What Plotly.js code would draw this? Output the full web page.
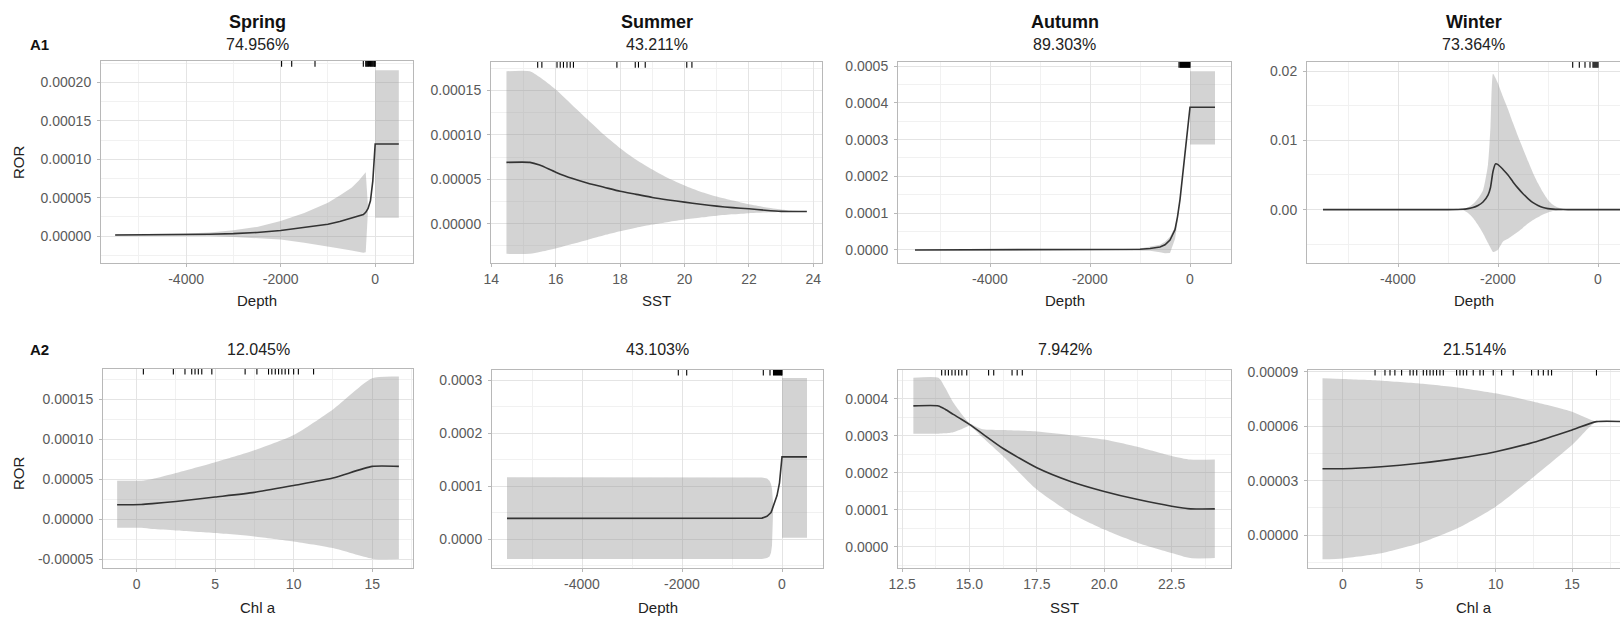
<!DOCTYPE html>
<html><head><meta charset="utf-8">
<script src="https://cdn.plot.ly/plotly-3.0.1.min.js"></script>
<style>
html,body{margin:0;padding:0;background:#fff;overflow:hidden}
#wrap{width:1620px;height:618px;overflow:hidden;position:relative}
#plot{width:1650px;height:618px}
</style></head>
<body><div id="wrap"><div id="plot"></div></div>
<script>
// ---------------- data ----------------
const seasons = ['Spring', 'Summer', 'Autumn', 'Winter'];
const rowLabels = ['A1', 'A2'];
const pctA1 = ['74.956%', '43.211%', '89.303%', '73.364%'];
const pctA2 = ['12.045%', '43.103%', '7.942%', '21.514%'];
const xTitlesA1 = ['Depth', 'SST', 'Depth', 'Depth'];
const xTitlesA2 = ['Chl a', 'Depth', 'SST', 'Chl a'];

// Spring A1 : Depth
const springA1X   = [-5500,-5000,-4500,-4000,-3500,-3000,-2500,-2000,-1500,-1000,-750,-500,-350,-250,-200,-150,-100,-50,0,0,500];
const springA1Fit = [0.0000015,0.0000016,0.0000018,0.000002,0.0000025,0.0000033,0.0000048,0.0000074,0.000011,0.0000155,0.000019,0.000023,0.000026,0.000028,0.000031,0.000036,0.000046,0.000072,0.00012,0.00012,0.00012];
const springA1Hi  = [0.0000025,0.0000027,0.000003,0.0000035,0.0000048,0.0000075,0.000012,0.0000196,0.00003,0.0000435,0.000053,0.000063,0.000072,0.00008,0.000083,0.000036,0.000046,0.000072,0.00012,0.000216,0.000216];
const springA1Lo  = [0.0000005,0.0000005,0.0000005,0.0000004,0,-0.0000012,-0.0000025,-0.0000043,-0.0000085,-0.000013,-0.000016,-0.0000187,-0.00002,-0.0000217,-0.000021,0.000036,0.000046,0.000072,0.00012,0.000024,0.000024];
const springA1Rug = [-1980,-1766,-1273,-251,-200,-180,-160,-140,-120,-100,-80,-60,-40,-20,-10,0];

// Summer A1 : SST
const summerA1X   = [14.47,15.2,15.5,16,16.5,17,17.5,18,18.5,19,19.5,20,20.5,21,21.5,22,22.5,23,23.4,23.8];
const summerA1Fit = [0.000069,0.000069,0.000066,0.000058,0.000051,0.0000455,0.000041,0.0000364,0.000033,0.0000295,0.0000267,0.0000242,0.0000218,0.0000197,0.000018,0.0000167,0.0000151,0.0000138,0.0000136,0.0000136];
const summerA1Hi  = [0.0001716,0.0001716,0.000165,0.000151,0.000134,0.000117,0.000100,0.000085,0.000072,0.000061,0.000051,0.000043,0.000036,0.0000305,0.000026,0.0000218,0.0000186,0.000016,0.0000145,0.0000137];
const summerA1Lo  = [-0.000034,-0.000034,-0.000032,-0.000028,-0.000023,-0.000018,-0.000013,-0.0000085,-0.0000045,-0.000001,0.000002,0.0000047,0.000007,0.000009,0.0000105,0.0000118,0.0000126,0.0000131,0.0000134,0.0000135];
const summerA1Rug = [15.44,15.57,16.04,16.14,16.24,16.35,16.45,16.55,17.9,18.47,18.57,18.78,20.07,20.23];

// Autumn A1 : Depth
const autumnA1X   = [-5500,-4000,-3000,-2000,-1500,-1000,-800,-600,-500,-400,-300,-250,-200,-150,-100,-50,0,0,500];
const autumnA1Fit = [0,0,0,0.0000005,0.000001,0.000002,0.000004,0.000008,0.000014,0.000027,0.000055,0.00009,0.000137,0.0002,0.000273,0.00033,0.000388,0.000388,0.000388];
const autumnA1Hi  = [0.000001,0.000001,0.000001,0.0000015,0.000002,0.000004,0.000008,0.000014,0.000022,0.000036,0.000062,0.000095,0.00014,0.0002,0.000273,0.00033,0.000388,0.000486,0.000486];
const autumnA1Lo  = [-0.000001,-0.000001,-0.000001,-0.0000005,0,0,-0.000002,-0.000006,-0.000009,-0.000008,0.00003,0.000075,0.000132,0.0002,0.000273,0.00033,0.000388,0.000287,0.000287];
const autumnA1Rug = [-220,-200,-190,-180,-170,-160,-150,-140,-130,-120,-110,-100,-90,-80,-70,-60,-50,-40,-30,-20,-10,0];

// Winter A1 : Depth
const winterA1X   = [-5500,-4000,-3000,-2700,-2600,-2500,-2400,-2300,-2200,-2150,-2100,-2050,-2000,-1900,-1800,-1700,-1600,-1500,-1400,-1300,-1200,-1100,-1000,-900,-800,-600,-400,-200,0,500];
const winterA1Fit = [0,0,0,0.00005,0.00015,0.0003,0.0006,0.0011,0.0021,0.0032,0.0055,0.0066,0.0065,0.0058,0.005,0.004,0.0031,0.0023,0.0016,0.001,0.0006,0.0003,0.00015,0.00007,0.00003,0,0,0,0,0];
const winterA1Hi  = [0,0,0.00005,0.0002,0.0003,0.0008,0.0016,0.0028,0.0065,0.012,0.0196,0.019,0.0182,0.0163,0.0145,0.0125,0.0106,0.0088,0.007,0.0053,0.0038,0.0025,0.0014,0.0007,0.0003,0.00005,0,0,0,0];
const winterA1Lo  = [0,0,-0.00005,-0.0001,-0.0005,-0.0012,-0.0022,-0.0034,-0.0048,-0.0055,-0.0061,-0.006,-0.0058,-0.0046,-0.0042,-0.0037,-0.0032,-0.0026,-0.002,-0.0015,-0.0011,-0.0007,-0.0004,-0.0002,-0.0001,0,0,0,0,0];
const winterA1Rug = [-506,-374,-260,-160,-100,-80,-60,-40,-20,0];

// Spring A2 : Chl a
const springA2X   = [-1.24,0.3,1,2.5,5,7.5,10,12.5,15,16.7];
const springA2Fit = [0.0000179,0.0000182,0.0000192,0.000022,0.0000275,0.0000333,0.000042,0.0000512,0.0000658,0.0000658];
const springA2Hi  = [0.0000479,0.0000479,0.00005,0.0000575,0.000071,0.000086,0.000105,0.000137,0.000176,0.000178];
const springA2Lo  = [-0.000011,-0.000011,-0.0000125,-0.0000142,-0.0000175,-0.0000217,-0.000028,-0.0000363,-0.0000495,-0.00005];
const springA2Rug = [0.43,2.34,3.08,3.51,3.72,3.93,4.15,4.79,6.91,7.66,8.4,8.61,8.83,9.04,9.25,9.46,9.68,10.0,10.3,11.27];

// Summer A2 : Depth
const summerA2X   = [-5500,-4000,-3000,-2000,-1000,-500,-400,-300,-250,-220,-200,-175,-150,-100,-50,0,0,500];
const summerA2Fit = [0.000039,0.000039,0.000039,0.000039,0.000039,0.000039,0.0000395,0.000043,0.000047,0.00005,0.000055,0.000062,0.00007,0.000082,0.000106,0.000155,0.000155,0.000155];
const summerA2Hi  = [0.0001164,0.0001164,0.0001164,0.0001164,0.0001164,0.0001164,0.000116,0.000114,0.00011,0.000104,0.000095,0.000062,0.00007,0.000082,0.000106,0.000155,0.000304,0.000304];
const summerA2Lo  = [-0.0000377,-0.0000377,-0.0000377,-0.0000377,-0.0000377,-0.0000377,-0.0000375,-0.000036,-0.000033,-0.000026,-0.000012,0.000062,0.00007,0.000082,0.000106,0.000155,0.0000025,0.0000025];
const summerA2Rug = [-2074,-1906,-374,-240,-170,-150,-130,-110,-90,-70,-50,-30,-10,0];

// Autumn A2 : SST
const autumnA2X   = [12.92,13.85,14.1,14.4,14.7,15.0,15.5,16.25,17.5,18.75,20,21.25,22.5,23.2,24.1];
const autumnA2Fit = [0.000381,0.000381,0.000372,0.000358,0.000345,0.000331,0.000305,0.000266,0.000214,0.000177,0.00015,0.000128,0.00011,0.000103,0.000103];
const autumnA2Hi  = [0.000457,0.000457,0.00043,0.00039,0.00036,0.000335,0.000318,0.000316,0.000312,0.000302,0.00029,0.00027,0.000246,0.000236,0.000236];
const autumnA2Lo  = [0.000306,0.000306,0.000307,0.00031,0.000318,0.000327,0.000295,0.000245,0.000155,0.000092,0.000047,0.000011,-0.000016,-0.00003,-0.00003];
const autumnA2Rug = [13.97,14.1,14.22,14.35,14.47,14.6,14.72,14.9,15.71,15.9,16.58,16.77,16.96];

// Winter A2 : Chl a
const winterA2X   = [-1.34,0,2.5,5,7.5,10,12.5,15,16.6,18.5];
const winterA2Fit = [0.0000366,0.0000366,0.0000377,0.0000396,0.0000423,0.000046,0.0000512,0.000058,0.0000626,0.0000626];
const winterA2Hi  = [0.0000865,0.0000861,0.0000852,0.0000837,0.0000815,0.0000782,0.0000736,0.0000681,0.0000626,0.0000626];
const winterA2Lo  = [-0.0000134,-0.0000129,-0.0000101,-0.0000046,0.0000037,0.0000156,0.0000322,0.0000497,0.0000626,0.0000626];
const winterA2Rug = [2.1,2.75,3.08,3.4,3.84,4.39,4.6,4.83,5.26,5.48,5.7,5.91,6.13,6.35,6.57,7.44,7.66,7.88,8.1,8.53,8.97,9.19,9.84,10.39,11.15,12.35,12.79,13.12,13.44,13.66,16.6];

// tick labels
const depthTicks = [-4000,-2000,0];
const depthTickText = ['-4000','-2000','0'];
const sstA1Ticks = [14,16,18,20,22,24];
const sstA1TickText = ['14','16','18','20','22','24'];
const sstA2Ticks = [12.5,15,17.5,20,22.5];
const sstA2TickText = ['12.5','15.0','17.5','20.0','22.5'];
const chlTicks = [0,5,10,15];
const chlTickText = ['0','5','10','15'];

const yTicks = [
  [0,0.00005,0.0001,0.00015,0.0002],
  [0,0.00005,0.0001,0.00015],
  [0,0.0001,0.0002,0.0003,0.0004,0.0005],
  [0,0.01,0.02],
  [-0.00005,0,0.00005,0.0001,0.00015],
  [0,0.0001,0.0002,0.0003],
  [0,0.0001,0.0002,0.0003,0.0004],
  [0,0.00003,0.00006,0.00009]
];
const yTickText = [
  ['0.00000','0.00005','0.00010','0.00015','0.00020'],
  ['0.00000','0.00005','0.00010','0.00015'],
  ['0.0000','0.0001','0.0002','0.0003','0.0004','0.0005'],
  ['0.00','0.01','0.02'],
  ['-0.00005','0.00000','0.00005','0.00010','0.00015'],
  ['0.0000','0.0001','0.0002','0.0003'],
  ['0.0000','0.0001','0.0002','0.0003','0.0004'],
  ['0.00000','0.00003','0.00006','0.00009']
];

// ---------------- layout config ----------------
const W = 1650, H = 618;
const panels = [
  {x:springA1X, fit:springA1Fit, lo:springA1Lo, hi:springA1Hi, rug:springA1Rug, xr:[-5800,800],  yr:[-0.000035,0.000228], xt:depthTicks, xtt:depthTickText, px:[101,413,61,263], smooth:false},
  {x:summerA1X, fit:summerA1Fit, lo:summerA1Lo, hi:summerA1Hi, rug:summerA1Rug, xr:[13.99,24.27], yr:[-0.0000443,0.000182], xt:sstA1Ticks, xtt:sstA1TickText, px:[491,822,62,263], smooth:true},
  {x:autumnA1X, fit:autumnA1Fit, lo:autumnA1Lo, hi:autumnA1Hi, rug:autumnA1Rug, xr:[-5840,820],  yr:[-0.0000355,0.000511], xt:depthTicks, xtt:depthTickText, px:[898,1231,62,263], smooth:false},
  {x:winterA1X, fit:winterA1Fit, lo:winterA1Lo, hi:winterA1Hi, rug:winterA1Rug, xr:[-5820,840],  yr:[-0.0077,0.0213], xt:depthTicks, xtt:depthTickText, px:[1307,1640,62,263], smooth:true},
  {x:springA2X, fit:springA2Fit, lo:springA2Lo, hi:springA2Hi, rug:springA2Rug, xr:[-2.14,17.6],  yr:[-0.0000612,0.0001875], xt:chlTicks, xtt:chlTickText, px:[103,413,369,568], smooth:true},
  {x:summerA2X, fit:summerA2Fit, lo:summerA2Lo, hi:summerA2Hi, rug:summerA2Rug, xr:[-5800,820],  yr:[-0.0000547,0.000319], xt:depthTicks, xtt:depthTickText, px:[492,823,370,568], smooth:false},
  {x:autumnA2X, fit:autumnA2Fit, lo:autumnA2Lo, hi:autumnA2Hi, rug:autumnA2Rug, xr:[12.35,24.7],  yr:[-0.0000568,0.000478], xt:sstA2Ticks, xtt:sstA2TickText, px:[898,1231,370,568], smooth:true},
  {x:winterA2X, fit:winterA2Fit, lo:winterA2Lo, hi:winterA2Hi, rug:winterA2Rug, xr:[-2.29,19.45], yr:[-0.0000182,0.0000911], xt:chlTicks, xtt:chlTickText, px:[1308,1640,370,568], smooth:true}
];

const FONT = '"Liberation Sans", Arial, Helvetica, sans-serif';
const GRID = '#e4e4e4', MINOR = '#f1f1f1', BORDER = '#b8b8b8';
const RIBBON = 'rgba(150,150,150,0.42)';

function minorVals(ticks, range) {
  const step = ticks[1] - ticks[0], out = [];
  for (let k = -30; k <= 30; k++) {
    const v = ticks[0] + (k + 0.5) * step;
    if (v > range[0] && v < range[1]) out.push(v);
  }
  return out;
}

const traces = [], shapes = [], annotations = [];
const layout = {
  width: W, height: H, margin: {l:0, r:0, t:0, b:0},
  paper_bgcolor: '#fff', plot_bgcolor: '#fff', showlegend: false,
  font: {family: FONT, color: '#333'}
};

panels.forEach((p, i) => {
  const n = i === 0 ? '' : String(i + 1);
  const xa = 'x' + n, ya = 'y' + n;
  const dom = [p.px[0] / W, p.px[1] / W];
  const ydom = [(H - p.px[3]) / H, (H - p.px[2]) / H];
  const axCommon = {
    ticks: 'outside', ticklen: 3, tickwidth: 1, tickcolor: BORDER,
    showline: true, mirror: true, linecolor: BORDER, linewidth: 1,
    showgrid: true, gridcolor: GRID, gridwidth: 1, zeroline: false,
    tickfont: {family: FONT, size: 14, color: '#5a5a5a'},
    fixedrange: true, tickmode: 'array'
  };
  layout['xaxis' + n] = Object.assign({}, axCommon, {
    domain: dom, range: p.xr, anchor: ya, tickvals: p.xt, ticktext: p.xtt,
    minor: {tickmode: 'array', tickvals: minorVals(p.xt, p.xr), showgrid: true, gridcolor: MINOR, gridwidth: 1, ticks: ''}
  });
  layout['yaxis' + n] = Object.assign({}, axCommon, {
    domain: ydom, range: p.yr, anchor: xa, tickvals: yTicks[i], ticktext: yTickText[i],
    ticklabelstandoff: 3,
    minor: {tickmode: 'array', tickvals: minorVals(yTicks[i], p.yr), showgrid: true, gridcolor: MINOR, gridwidth: 1, ticks: ''}
  });
  const shp = p.smooth ? {shape: 'spline', smoothing: 0.6} : {shape: 'linear'};
  traces.push({type:'scatter', mode:'lines', x:p.x, y:p.lo, xaxis:xa, yaxis:ya, line:Object.assign({width:0, color:RIBBON}, shp), hoverinfo:'skip'});
  traces.push({type:'scatter', mode:'lines', x:p.x, y:p.hi, xaxis:xa, yaxis:ya, line:Object.assign({width:0, color:RIBBON}, shp), fill:'tonexty', fillcolor:RIBBON, hoverinfo:'skip'});
  traces.push({type:'scatter', mode:'lines', x:p.x, y:p.fit, xaxis:xa, yaxis:ya, line:Object.assign({width:1.6, color:'#333333'}, shp), hoverinfo:'skip'});
  p.rug.forEach(v => shapes.push({type:'line', xref:xa, yref:ya + ' domain', x0:v, x1:v, y0:0.972, y1:1, line:{color:'#000', width:1.1}}));

  const row = i < 4 ? 0 : 1, col = i % 4;
  const xt = row === 0 ? xTitlesA1[col] : xTitlesA2[col];
  annotations.push({xref: xa + ' domain', yref:'paper', x:0.5, y:1 - (row === 0 ? 301 : 607) / H, text: xt, showarrow:false, xanchor:'center', yanchor:'middle', font:{family:FONT, size:15, color:'#222'}});
  annotations.push({xref: xa + ' domain', yref:'paper', x:0.5, y:1 - (row === 0 ? 45 : 349) / H, text: row === 0 ? pctA1[col] : pctA2[col], showarrow:false, xanchor:'center', yanchor:'middle', font:{family:FONT, size:16, color:'#222'}});
  if (row === 0) {
    annotations.push({xref: xa + ' domain', yref:'paper', x:0.5, y:1 - 22 / H, text: '<b>' + seasons[col] + '</b>', showarrow:false, xanchor:'center', yanchor:'middle', font:{family:FONT, size:18, color:'#111'}});
  }
  if (col === 0) {
    annotations.push({xref:'paper', yref:'paper', x:18 / W, y:1 - (row === 0 ? 162 : 473) / H, text:'ROR', textangle:-90, showarrow:false, xanchor:'center', yanchor:'middle', font:{family:FONT, size:15, color:'#222'}});
    annotations.push({xref:'paper', yref:'paper', x:28 / W, y:1 - (row === 0 ? 45 : 349) / H, text:'<b>' + rowLabels[row] + '</b>', showarrow:false, xanchor:'left', yanchor:'middle', font:{family:FONT, size:15, color:'#111'}});
  }
});

layout.shapes = shapes;
layout.annotations = annotations;
Plotly.newPlot('plot', traces, layout, {staticPlot: true, displayModeBar: false});
</script></body></html>
